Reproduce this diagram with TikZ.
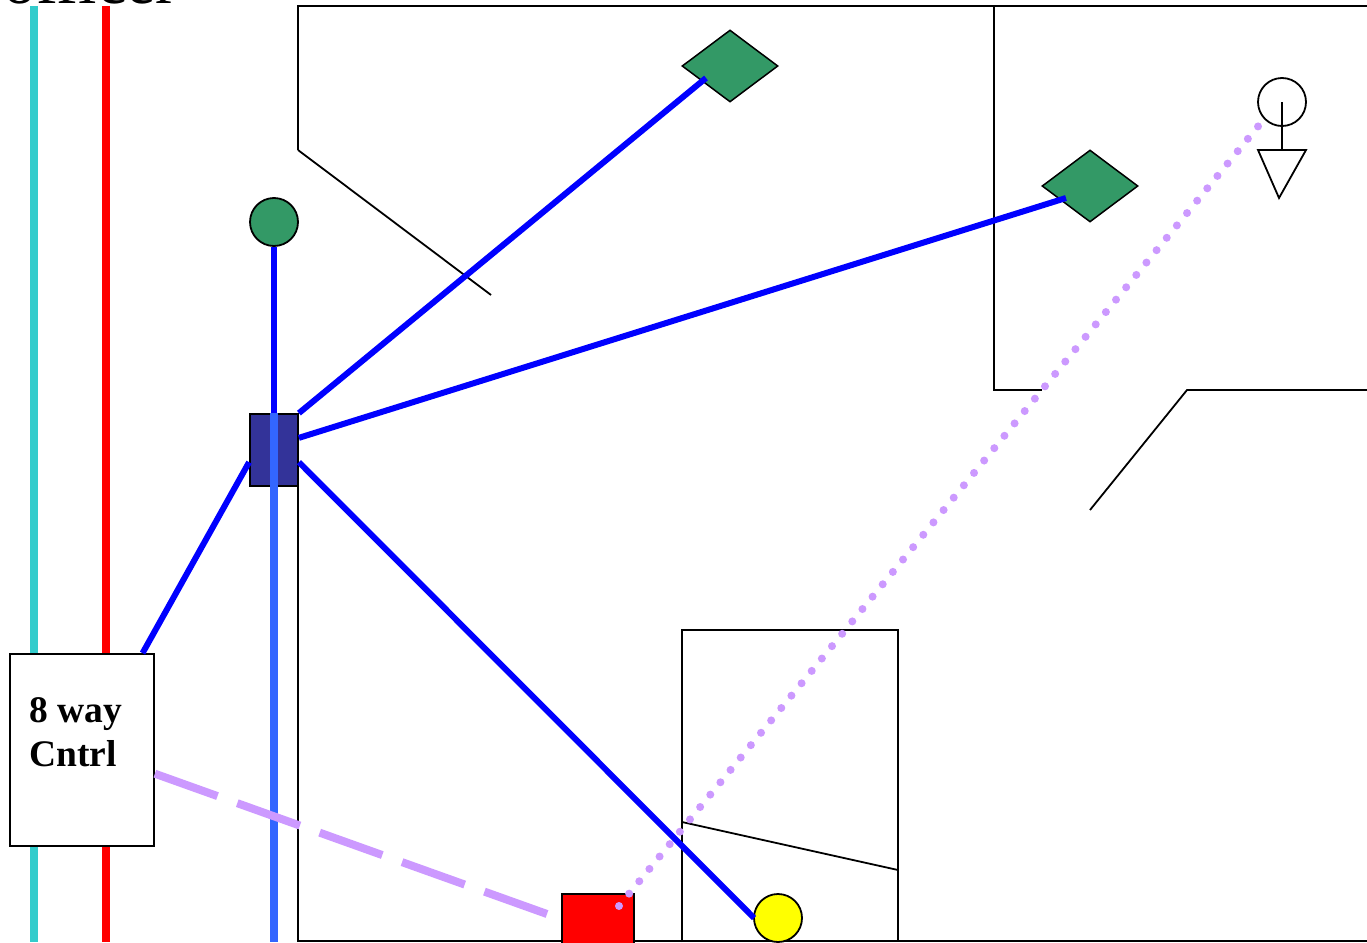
\documentclass[tikz,border=0pt]{standalone}
\usepackage{fontspec}
\setmainfont{Liberation Serif}
\usetikzlibrary{shapes.geometric}
\definecolor{cyanwire}{HTML}{33CCCC}
\definecolor{lightwire}{HTML}{3366FF}
\definecolor{purplewire}{HTML}{CC99FF}
\definecolor{greenfill}{HTML}{339966}
\definecolor{navyfill}{HTML}{333399}
\definecolor{lampyellow}{HTML}{FFFF00}
\definecolor{boxred}{HTML}{FF0000}
\tikzset{
  wall/.style={draw=black,line width=1.8pt},
  busline/.style={line width=8pt},
  link/.style={draw=blue,line width=6pt},
  roundnode/.style={circle,draw=black,line width=1.8pt,minimum size=48pt,inner sep=0pt},
  sensor/.style={diamond,draw=black,line width=1.5pt,fill=greenfill,minimum width=96pt,minimum height=72pt,inner sep=0pt},
}
\begin{document}
\begin{tikzpicture}[x=1pt,y=-1pt]
\useasboundingbox (0,0) rectangle (1367,942);
\clip (0,0) rectangle (1367,942);
\fill[white] (0,0) rectangle (1367,942);
% heading, cut by the page edge
\node[anchor=base west,inner sep=0pt,font=\fontsize{66}{72}\selectfont] (title) at (3,4) {officer};
% walls
\draw[wall] (298,150) -- (298,6) -- (1367,6);
\draw[wall] (298,150) -- (491,295);
\draw[wall] (994,6) -- (994,390) -- (1042,390);
\draw[wall] (1367,390) -- (1187,390) -- (1090,510);
\draw[wall] (298,486) -- (298,941) -- (1367,941);
\draw[wall] (682,942) -- (682,630) -- (898,630) -- (898,942);
\draw[wall] (682,822) -- (898,870);
% vertical buses
\coordinate (cyantop) at (34,6);
\coordinate (cyanbot) at (34,942);
\coordinate (redtop) at (106,6);
\coordinate (redbot) at (106,942);
\draw[busline,cyanwire] (cyantop) -- (cyanbot);
\draw[busline,boxred] (redtop) -- (redbot);
% nodes
\node[rectangle,draw=black,line width=1.8pt,fill=white,minimum width=144pt,minimum height=192pt,inner sep=0pt] (ctrl) at (82,750) {};
\node[anchor=base west,inner sep=0pt,font=\fontsize{37.5}{42}\selectfont\bfseries] (ctrltexta) at (29,722) {8 way};
\node[anchor=base west,inner sep=0pt,font=\fontsize{37.5}{42}\selectfont\bfseries] (ctrltextb) at (29,766) {Cntrl};
\node[rectangle,draw=black,line width=1.8pt,fill=navyfill,minimum width=48pt,minimum height=72pt,inner sep=0pt] (hub) at (274,450) {};
\node[roundnode,fill=greenfill] (lamp) at (274,222) {};
\node[sensor] (senA) at (730,66) {};
\node[sensor] (senB) at (1090,186) {};
\node[rectangle,draw=black,line width=1.8pt,fill=boxred,minimum width=72pt,minimum height=72pt,inner sep=0pt] (redbox) at (598,930) {};
\node[roundnode,fill=lampyellow] (yellowc) at (778,918) {};
\node[roundnode] (person) at (1282,102) {};
\draw[wall] (person.center) -- (1282,150);
\draw[wall,line join=miter] (1258,150) -- (1306,150) -- (1279,198) -- cycle;
% connection points inside the shapes
\coordinate (senAin) at (706,78);
\coordinate (senBin) at (1066,198);
\coordinate (yellowin) at (754,918);
\coordinate (redin) at (619,906);
\coordinate (personin) at (1260,124);
\coordinate (dashend) at (547,914);
\coordinate (hubdown) at (274,942);
% links
\draw[link] (hub.north) -- (lamp.south);
\draw[link] (hub.north east) -- (senAin);
\draw[link] (hub.26.6) -- (senBin);
\draw[link] (hub.-26.6) -- (yellowin);
\draw[link] (hub.206.6) -- (ctrl.58);
\draw[busline,lightwire] (hub.north) -- (hubdown);
\draw[purplewire,line width=8pt,dash pattern=on 66.5pt off 21pt] (ctrl.-18.4) -- (dashend);
\draw[purplewire,line width=8pt,line cap=round,dash pattern=on 0pt off 16pt] (redin) -- (personin);
\end{tikzpicture}
\end{document}
